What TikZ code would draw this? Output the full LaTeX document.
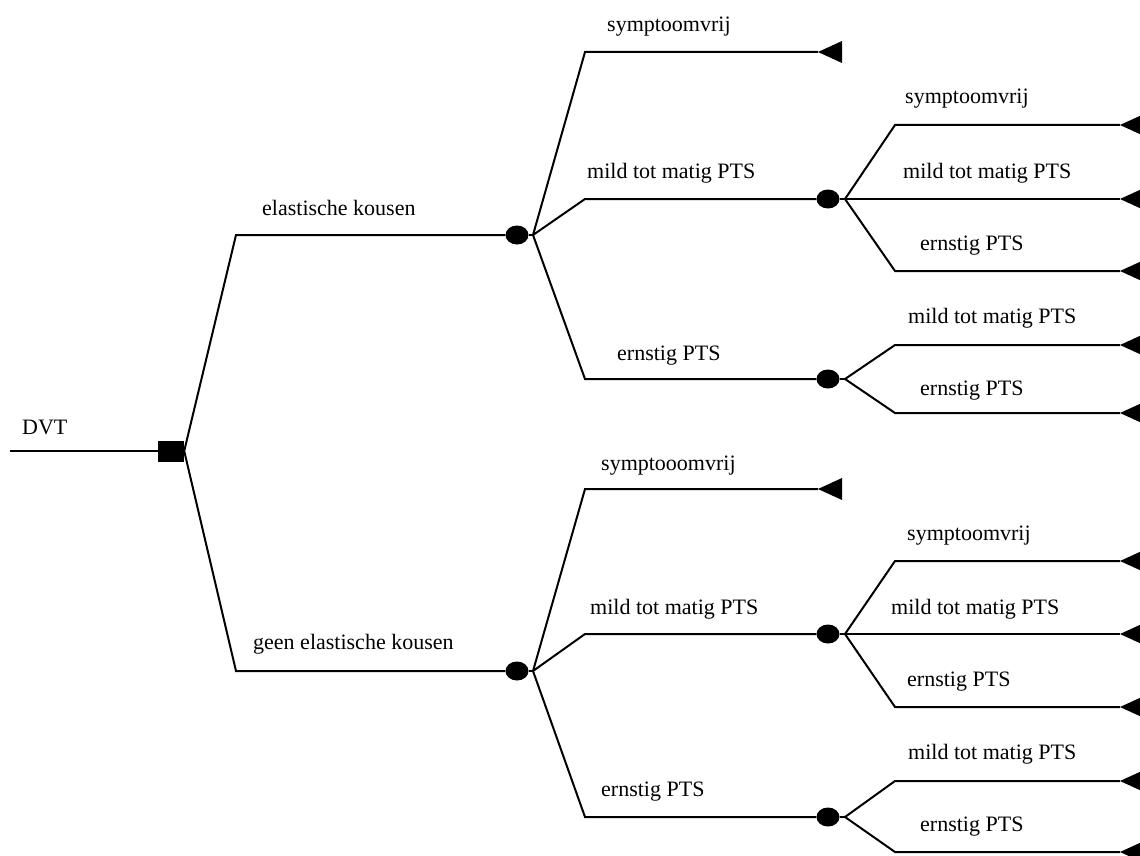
\documentclass[tikz,border=0pt]{standalone}
\usepackage{fontspec}
\setmainfont{Liberation Serif}
\usetikzlibrary{shapes.geometric}
\begin{document}
\begin{tikzpicture}[x=1pt,y=-1pt,
  edge/.style={line width=2pt,line join=miter},
  lbl/.style={anchor=base west,inner sep=0pt,font=\fontsize{22}{26}\selectfont},
  decision/.style={rectangle,fill=black,minimum width=26pt,minimum height=21pt,inner sep=0pt},
  chance/.style={ellipse,fill=black,minimum width=23pt,minimum height=19pt,inner sep=0pt},
  endtri/.style={fill=black}]
\useasboundingbox (0,0) rectangle (1140,856);
\clip (0,0) rectangle (1140,856);
% root
\coordinate (start) at (10,451);
\node[decision] (sq) at (171,451) {};
\node[lbl] (tDVT) at (22,434) {DVT};
\draw[edge] (start) -- (sq.west);
% level 1 chance nodes
\node[chance] (cA) at (517,235) {};
\node[chance] (cB) at (517,671) {};
\draw[edge] (sq.east) -- (236,235) -- (cA.west);
\draw[edge] (sq.east) -- (236,671) -- (cB.west);
\node[lbl] (tA) at (262,215) {elastische kousen};
\node[lbl] (tB) at (253,649) {geen elastische kousen};
\coordinate (oA) at (533,235);
\coordinate (oB) at (533,671);
% level 2 upper
\coordinate (eA1) at (818,52);
\node[chance] (cA2) at (828,199) {};
\node[chance] (cA3) at (828,379) {};
\draw[edge] (oA) -- (585,52) -- (eA1);
\draw[edge] (oA) -- (585,199) -- (cA2.west);
\draw[edge] (oA) -- (585,379) -- (cA3.west);
\fill[endtri] (eA1) -- ++(24,-11) -- ++(0,22) -- cycle;
\node[lbl] at (607,32) {symptoomvrij};
\node[lbl] at (587,178) {mild tot matig PTS};
\node[lbl] at (617,360) {ernstig PTS};
% level 2 lower
\coordinate (eB1) at (818,489);
\node[chance] (cB2) at (828,634) {};
\node[chance] (cB3) at (828,817) {};
\draw[edge] (oB) -- (585,489) -- (eB1);
\draw[edge] (oB) -- (585,634) -- (cB2.west);
\draw[edge] (oB) -- (585,817) -- (cB3.west);
\fill[endtri] (eB1) -- ++(24,-11) -- ++(0,22) -- cycle;
\node[lbl] at (601,470) {symptooomvrij};
\node[lbl] at (590,614) {mild tot matig PTS};
\node[lbl] at (601,796) {ernstig PTS};
% origins of level 3
\coordinate (oA2) at (845,199);
\coordinate (oA3) at (845,379);
\coordinate (oB2) at (845,634);
\coordinate (oB3) at (845,817);
% level 3 ends
\foreach \n/\y in {a1/125,a2/199,a3/271,b1/345,b2/413,c1/561,c2/634,c3/707,d1/781,d2/852}{
  \coordinate (e\n) at (1120,\y);
  \fill[endtri] (e\n) -- ++(24,-11) -- ++(0,22) -- cycle;
}
\draw[edge] (oA2) -- (895,125) -- (ea1);
\draw[edge] (oA2) -- (ea2);
\draw[edge] (oA2) -- (895,271) -- (ea3);
\draw[edge] (oA3) -- (895,345) -- (eb1);
\draw[edge] (oA3) -- (895,413) -- (eb2);
\draw[edge] (oB2) -- (895,561) -- (ec1);
\draw[edge] (oB2) -- (ec2);
\draw[edge] (oB2) -- (895,707) -- (ec3);
\draw[edge] (oB3) -- (895,781) -- (ed1);
\draw[edge] (oB3) -- (895,852) -- (ed2);
\draw[edge] (cA2.east) -- (oA2);
\draw[edge] (cA3.east) -- (oA3);
\draw[edge] (cB2.east) -- (oB2);
\draw[edge] (cB3.east) -- (oB3);
\draw[edge] (cA.east) -- (oA);
\draw[edge] (cB.east) -- (oB);
% level 3 labels
\node[lbl] at (905,104) {symptoomvrij};
\node[lbl] at (903,178) {mild tot matig PTS};
\node[lbl] at (920,250) {ernstig PTS};
\node[lbl] at (908,323) {mild tot matig PTS};
\node[lbl] at (920,395) {ernstig PTS};
\node[lbl] at (907,540) {symptoomvrij};
\node[lbl] at (891,614) {mild tot matig PTS};
\node[lbl] at (907,686) {ernstig PTS};
\node[lbl] at (908,759) {mild tot matig PTS};
\node[lbl] at (920,831) {ernstig PTS};
\end{tikzpicture}
\end{document}
